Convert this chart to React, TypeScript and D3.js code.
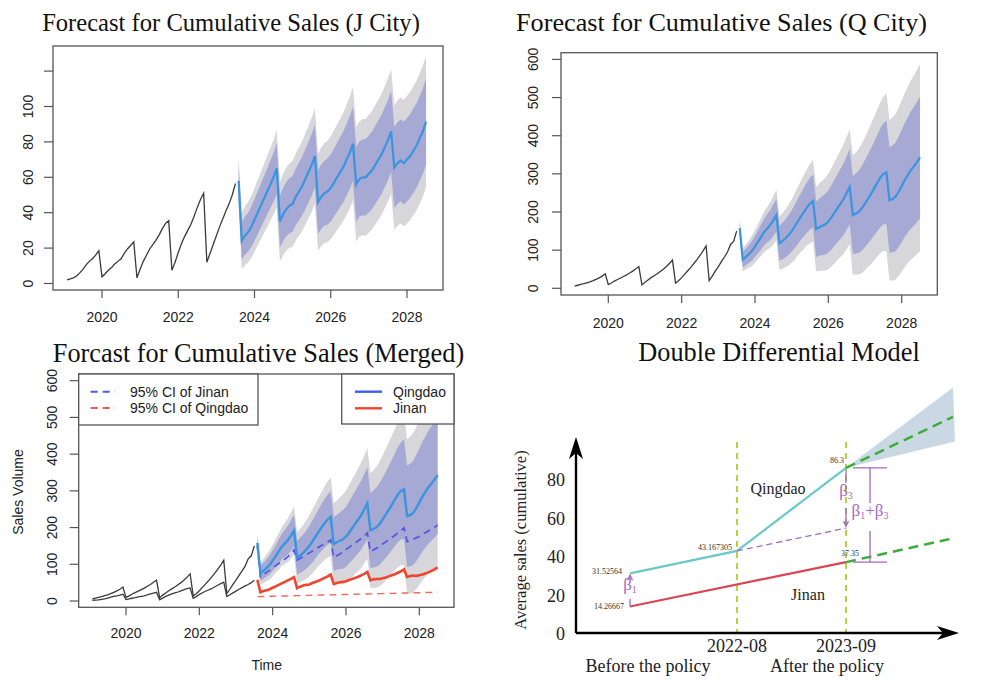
import * as d3 from 'd3';

const SANS = 'Liberation Sans, Arial, Helvetica, sans-serif';
const SERIF = 'Liberation Serif, Times New Roman, serif';

// monthly series, first observation Feb 2019
const startYear = 2019 + 1 / 12;

const histJ = [
  2, 2.6, 3.2, 4.2, 6, 8, 10.5, 12.5, 14, 16, 18.5, 3.8,
  5.5, 7.5, 9, 11, 12.5, 14, 17, 19.5, 21.5, 23.5, 3.2,
  8, 12.5, 16, 19.5, 22, 24.5, 27.5, 31, 34, 35.5, 7.5,
  12, 17.5, 22.5, 26.5, 30, 33.5, 38, 43, 47.5, 51, 12,
  17, 22, 27, 32, 36.5, 41, 45, 50, 56.5,
];
const histQ = [
  6, 8, 10, 12, 14.5, 17, 20, 23.5, 27.5, 32, 38, 10,
  14, 19, 23, 27, 31, 35, 40, 45, 51, 57, 9,
  16, 22, 28, 33, 38, 44, 50, 57, 65, 74, 14,
  20, 28, 37, 46, 55, 65, 75, 86, 98, 111, 20,
  32, 45, 57, 70, 82, 95, 115, 123, 150,
];

// point forecasts, Sep 2023 onwards
const fcJ = [
  58,
  24, 27, 29, 32, 36, 40, 44, 48, 52, 56, 60, 65,
  35, 39, 42, 44, 45, 49, 52, 55, 59, 63, 67, 72,
  46, 49, 51, 52, 54, 57, 60, 63, 66, 70, 74, 79,
  56, 59, 60, 60, 62, 64, 67, 70, 73, 77, 81, 86,
  65.5, 68, 69.5, 68, 70, 72, 75, 78, 82, 86, 91.5,
];
const fcQ = [
  158,
  75, 82, 90, 98, 110, 122, 135, 148, 157, 166, 178, 192,
  118, 124, 131, 140, 150, 162, 175, 188, 200, 212, 222, 229,
  155, 160, 164, 168, 175, 186, 198, 210, 222, 234, 250, 266,
  192, 196, 201, 210, 222, 235, 248, 262, 276, 290, 300, 304,
  231, 234, 240, 253, 268, 284, 297, 310, 320, 331, 343,
];

// half widths of the prediction intervals
const spreadJ95 = [
  14,
  16, 16.5, 17, 17.5, 18, 18.5, 19, 19.5, 20, 20.5, 21, 22,
  22.5, 23, 23.5, 23.8, 24.2, 24.6, 25, 25.4, 25.8, 26.2, 26.6, 27,
  27.4, 27.8, 28.2, 28.6, 29, 29.4, 29.8, 30.2, 30.6, 31, 31.5, 32,
  32.3, 32.5, 32.8, 33, 33.3, 33.5, 33.8, 34, 34.3, 34.5, 34.8, 35,
  35.2, 35.4, 35.6, 35.8, 36, 36.2, 36.4, 36.6, 36.8, 37, 37,
];
const spreadJ80 = [
  9,
  10.5, 10.8, 11, 11.4, 11.8, 12, 12.4, 12.8, 13, 13.4, 13.8, 14.4,
  14.7, 15, 15.3, 15.6, 15.8, 16, 16.3, 16.6, 16.9, 17.1, 17.4, 17.6,
  17.9, 18.2, 18.4, 18.7, 19, 19.2, 19.5, 19.7, 20, 20.3, 20.6, 20.9,
  21.1, 21.2, 21.4, 21.6, 21.8, 21.9, 22.1, 22.2, 22.4, 22.5, 22.7, 22.9,
  23, 23.1, 23.2, 23.4, 23.5, 23.6, 23.8, 23.9, 24, 24.2, 24.2,
];
const spreadQ95 = [
  25,
  30, 33, 36, 40, 43, 46, 50, 53, 56, 60, 63, 66,
  70, 73, 76, 80, 83, 87, 90, 93, 97, 100, 104, 107,
  111, 114, 118, 122, 125, 129, 133, 136, 140, 144, 147, 151,
  156, 160, 165, 170, 174, 179, 184, 188, 193, 198, 202, 207,
  210, 214, 217, 221, 224, 228, 231, 235, 238, 242, 245,
];
const spreadQ80 = [
  16,
  20, 22, 24, 26, 28, 30, 33, 35, 37, 39, 41, 43,
  46, 48, 50, 52, 54, 57, 59, 61, 64, 66, 68, 70,
  73, 75, 77, 80, 82, 84, 87, 89, 92, 94, 96, 99,
  102, 105, 108, 111, 114, 117, 120, 123, 126, 130, 132, 136,
  138, 140, 142, 145, 147, 149, 151, 154, 156, 158, 160,
];

// dashed limits in the merged panel
const ciJinan = [
  150,
  66, 72, 78, 84, 90, 96, 102, 108, 114, 121, 129, 139,
  112, 116, 121, 126, 131, 136, 141, 146, 151, 156, 161, 166,
  118, 123, 128, 134, 140, 146, 152, 158, 164, 170, 177, 185,
  134, 139, 144, 149, 155, 161, 167, 173, 179, 185, 192, 199,
  162, 165, 168, 172, 176, 181, 186, 191, 196, 201, 207,
];
const ciQingdao = [
  12, 12.2, 12.4, 12.6, 12.8, 13, 13.2, 13.4, 13.6, 13.8, 14, 14.2,
  14.4, 14.6, 14.8, 15, 15.2, 15.4, 15.6, 15.8, 16, 16.2, 16.4, 16.6,
  16.8, 17, 17.2, 17.4, 17.6, 17.8, 18, 18.2, 18.4, 18.6, 18.8, 19,
  19.2, 19.4, 19.6, 19.8, 20, 20.2, 20.4, 20.6, 20.8, 21, 21.2, 21.4,
  21.6, 21.8, 22, 22.2, 22.4, 22.6, 22.8, 23, 23.2, 23.4, 23.6, 23.8,
];

const yearTicks = [2020, 2022, 2024, 2026, 2028];
const jTicks = [0, 20, 40, 60, 80, 100, 120];
const qTicks = [0, 100, 200, 300, 400, 500, 600];

// double differential panel
const ddMonths = [0, 12.75, 25.75];
const ddEnd = 38.5;
const ddQingdao = [31.52564, 43.167305, 86.3];
const ddJinan = [14.26667, 37.35];
const ddCounterfactual = 55;
const ddQProjected = 112.8;
const ddQConeHigh = 128;
const ddQConeLow = 100;
const ddJProjected = 49.7;
const ddTicks = [0, 20, 40, 60, 80];
const ddPeriods = ['2022-08', '2023-09'];

const histT = histJ.map((_, i) => startYear + i / 12);
const fcT = fcJ.map((_, i) => startYear + (histJ.length + i) / 12);

const BAND95 = '#d6d6db';
const BAND80 = '#a5a9d3';
const FC_BLUE = '#3a94df';
const HIST = '#3a3a3a';
const AXIS = '#555';

type Box = { l: number; t: number; r: number; b: number };
type Scale = d3.ScaleLinear<number, number>;

function series(ts: number[], vs: number[], x: Scale, y: Scale) {
  return d3.line<number>().x((_, i) => x(ts[i])).y(v => y(v))(vs) || '';
}

function band(vs: number[], h: number[], x: Scale, y: Scale) {
  return d3.area<number>()
    .x((_, i) => x(fcT[i]))
    .y0((v, i) => y(v - h[i]))
    .y1((v, i) => y(v + h[i]))(vs) || '';
}

function Frame({ id, box, x, y, yTicks, yLabelX, xLabelY, hideTop, children }: {
  id: string; box: Box; x: Scale; y: Scale; yTicks: number[]; yLabelX: number; xLabelY: number;
  hideTop?: boolean; children?: any;
}) {
  return (
    <g fontFamily={SANS} fontSize={14} fill="#222">
      <clipPath id={id}>
        <rect x={box.l} y={box.t} width={box.r - box.l} height={box.b - box.t} />
      </clipPath>
      <g clipPath={`url(#${id})`}>{children}</g>
      <rect x={box.l} y={box.t} width={box.r - box.l} height={box.b - box.t}
        fill="none" stroke={AXIS} strokeWidth={1.3} />
      {yTicks.map((v, i) => (
        <g key={'y' + v}>
          <line x1={box.l} x2={box.l - 9} y1={y(v)} y2={y(v)} stroke={AXIS} strokeWidth={1.2} />
          {!(hideTop && i === yTicks.length - 1) && (
            <text transform={`translate(${yLabelX},${y(v)}) rotate(-90)`} textAnchor="middle" dy="0.35em">{v}</text>
          )}
        </g>
      ))}
      {yearTicks.map(v => (
        <g key={'x' + v}>
          <line x1={x(v)} x2={x(v)} y1={box.b} y2={box.b + 8} stroke={AXIS} strokeWidth={1.2} />
          <text x={x(v)} y={xLabelY} textAnchor="middle" dy="0.35em">{v}</text>
        </g>
      ))}
    </g>
  );
}

function CityPanel({ id, box, xr, yDom, yr, yTicks, hideTop, yLabelX, xLabelY, hist, fc, s80, s95 }: {
  id: string; box: Box; xr: number[]; yDom: number[]; yr: number[]; yTicks: number[]; hideTop?: boolean;
  yLabelX: number; xLabelY: number; hist: number[]; fc: number[]; s80: number[]; s95: number[];
}) {
  const x = d3.scaleLinear().domain([2020, 2028]).range(xr);
  const y = d3.scaleLinear().domain(yDom).range(yr);
  return (
    <Frame id={id} box={box} x={x} y={y} yTicks={yTicks} yLabelX={yLabelX} xLabelY={xLabelY} hideTop={hideTop}>
      <path d={band(fc, s95, x, y)} fill={BAND95} />
      <path d={band(fc, s80, x, y)} fill={BAND80} />
      <path d={series(histT, hist, x, y)} fill="none" stroke={HIST} strokeWidth={1.3} />
      <path d={series(fcT, fc, x, y)} fill="none" stroke={FC_BLUE} strokeWidth={2.2} />
    </Frame>
  );
}

function MergedPanel() {
  const box = { l: 78.7, t: 374, r: 454, b: 607.3 };
  const x = d3.scaleLinear().domain([2020, 2028]).range([126, 419.3]);
  const y = d3.scaleLinear().domain([0, 600]).range([601, 380.7]);
  return (
    <g>
      <Frame id="clip3" box={box} x={x} y={y} yTicks={qTicks} yLabelX={51.7} xLabelY={633}>
        <path d={band(fcQ, spreadQ95, x, y)} fill={BAND95} />
        <path d={band(fcQ, spreadQ80, x, y)} fill={BAND80} />
        <path d={series(histT, histQ, x, y)} fill="none" stroke={HIST} strokeWidth={1.3} />
        <path d={series(histT, histJ, x, y)} fill="none" stroke={HIST} strokeWidth={1.3} />
        <path d={series(fcT, ciJinan, x, y)} fill="none" stroke="#5858e0" strokeWidth={1.8} strokeDasharray="7,5" />
        <path d={series(fcT, ciQingdao, x, y)} fill="none" stroke="#f06a60" strokeWidth={1.4} strokeDasharray="7,5" />
        <path d={series(fcT, fcQ, x, y)} fill="none" stroke={FC_BLUE} strokeWidth={2.4} />
        <path d={series(fcT, fcJ, x, y)} fill="none" stroke="#f0442e" strokeWidth={2.6} />
      </Frame>
      <g fontFamily={SANS} fontSize={14} fill="#222">
        <rect x={box.l} y={box.t} width={258 - box.l} height={51} fill="#fff" stroke={AXIS} strokeWidth={1.3} />
        <line x1={90.7} x2={115} y1={391.7} y2={391.7} stroke="#4a5cf0" strokeWidth={2} strokeDasharray="7,5" />
        <text x={130} y={391.7} dy="0.35em">95% CI of Jinan</text>
        <line x1={90.7} x2={115} y1={408} y2={408} stroke="#f05a50" strokeWidth={2} strokeDasharray="7,5" />
        <text x={130} y={408} dy="0.35em">95% CI of Qingdao</text>
        <rect x={341.7} y={box.t} width={box.r - 341.7} height={50} fill="#fff" stroke={AXIS} strokeWidth={1.3} />
        <line x1={355} x2={382} y1={391.7} y2={391.7} stroke="#3a5ff0" strokeWidth={2.4} />
        <text x={393} y={391.7} dy="0.35em">Qingdao</text>
        <line x1={355} x2={382} y1={408.3} y2={408.3} stroke="#f0442e" strokeWidth={2.4} />
        <text x={393} y={408.3} dy="0.35em">Jinan</text>
        <text x={266.7} y={665} textAnchor="middle" dy="0.35em">Time</text>
        <text transform="translate(18,492) rotate(-90)" textAnchor="middle" dy="0.35em">Sales Volume</text>
      </g>
    </g>
  );
}

// β with subscripts, e.g. ['1','3'] -> β1+β3
function Beta({ x, y, sub }: { x: number; y: number; sub: string[] }) {
  const parts: any[] = [];
  sub.forEach((s, i) => {
    parts.push(<tspan key={'b' + i} dy={i > 0 ? -3 : 0}>{i > 0 ? '+β' : 'β'}</tspan>);
    parts.push(<tspan key={'s' + i} fontSize={10} dy={3}>{s}</tspan>);
  });
  return (
    <text x={x} y={y} textAnchor="middle" dy="0.35em" fontFamily={SERIF} fontSize={17} fill="#a468c0">
      {parts}
    </text>
  );
}

function DDPanel() {
  const x = d3.scaleLinear().domain([-6.44, 39.1]).range([576, 958]);
  const y = d3.scaleLinear().domain([0, 100]).range([634, 441.5]);
  const qLine = d3.line<number>().x((_, i) => x(ddMonths[i])).y(v => y(v))(ddQingdao) || '';
  const jLine = d3.line<number>().x((_, i) => x(ddMonths[i === 0 ? 0 : 2])).y(v => y(v))(ddJinan) || '';
  const last = ddMonths[2];
  const cone = `M${x(last)},${y(ddQingdao[2])}L${x(ddEnd)},${y(ddQConeHigh)}L${x(ddEnd) + 2},${y(ddQConeLow)}Z`;
  const purple = '#a468c0';
  const xa = x(ddMonths[0]);
  const xc = x(last);
  const xb = xc + 24;
  return (
    <g fontFamily={SERIF} fill="#222">
      <path d={cone} fill="#cad8e4" />
      {ddMonths.slice(1).map(m => (
        <line key={m} x1={x(m)} x2={x(m)} y1={442} y2={633} stroke="#b6d23a" strokeWidth={2} strokeDasharray="6,5" />
      ))}
      <path d={qLine} fill="none" stroke="#6cc8c8" strokeWidth={2.2} />
      <path d={jLine} fill="none" stroke="#dc4453" strokeWidth={2.2} />
      <line x1={x(ddMonths[1])} y1={y(ddQingdao[1])} x2={xc} y2={y(ddCounterfactual)}
        stroke={purple} strokeWidth={1.3} strokeDasharray="6,4" />
      <line x1={xc} y1={y(ddQingdao[2])} x2={x(ddEnd)} y2={y(ddQProjected)}
        stroke="#3aae3a" strokeWidth={2.5} strokeDasharray="10,6" />
      <line x1={xc} y1={y(ddJinan[1])} x2={x(ddEnd)} y2={y(ddJProjected)}
        stroke="#3aae3a" strokeWidth={2.5} strokeDasharray="10,6" />
      {/* axes */}
      <line x1={576} y1={633} x2={948} y2={633} stroke="#000" strokeWidth={2.4} />
      <line x1={576} y1={633} x2={576} y2={450} stroke="#000" strokeWidth={2.4} />
      <path d="M576,437 L569,459 L576,453 L583,459 Z" fill="#000" />
      <path d="M959,633 L937,626 L943,633 L937,640 Z" fill="#000" />
      {ddTicks.map(v => (
        <text key={v} x={565} y={y(v)} textAnchor="end" dy="0.35em" fontSize={18}>{v}</text>
      ))}
      {ddPeriods.map((p, i) => (
        <text key={p} x={x(ddMonths[i + 1])} y={646} textAnchor="middle" dy="0.35em" fontSize={18}>{p}</text>
      ))}
      <text x={648} y={666} textAnchor="middle" dy="0.35em" fontSize={18}>Before the policy</text>
      <text x={827} y={666} textAnchor="middle" dy="0.35em" fontSize={18}>After the policy</text>
      <text transform="translate(520,540) rotate(-90)" textAnchor="middle" dy="0.35em" fontSize={16.5}>
        Average sales (cumulative)
      </text>
      <text x={778} y={488} textAnchor="middle" dy="0.35em" fontSize={16}>Qingdao</text>
      <text x={808} y={594} textAnchor="middle" dy="0.35em" fontSize={16}>Jinan</text>
      {/* value labels */}
      <g fontSize={8} fill="#333">
        <text x={xa - 8} y={y(ddQingdao[0])} textAnchor="end" dy="0.1em">{ddQingdao[0]}</text>
        <text x={xa - 6} y={y(ddJinan[0])} textAnchor="end" dy="0.35em">{ddJinan[0]}</text>
        <text x={x(ddMonths[1]) - 5} y={y(ddQingdao[1]) - 1} textAnchor="end">{ddQingdao[1]}</text>
        <text x={xc - 2} y={y(ddQingdao[2]) - 5} textAnchor="end">{ddQingdao[2]}</text>
        <text x={xc + 4} y={y(ddJinan[1]) - 6} textAnchor="middle">{ddJinan[1]}</text>
      </g>
      {/* beta annotations */}
      <g stroke={purple} strokeWidth={1.3} fill="none">
        <line x1={xa} x2={xa} y1={y(ddQingdao[0]) + 2} y2={580} />
        <path d={`M${xa - 2.5},${y(ddQingdao[0]) + 7}L${xa},${y(ddQingdao[0]) + 2}L${xa + 2.5},${y(ddQingdao[0]) + 7}`} />
        <line x1={xa} x2={xa} y1={599} y2={y(ddJinan[0])} />
        <line x1={xc} x2={xc} y1={y(ddQingdao[2]) + 2} y2={483} />
        <line x1={xc} x2={xc} y1={508} y2={y(ddCounterfactual) - 2} />
        <path d={`M${xc - 2.5},${y(ddCounterfactual) - 7}L${xc},${y(ddCounterfactual) - 2}L${xc + 2.5},${y(ddCounterfactual) - 7}`} />
        <line x1={xb - 17} x2={xb + 17} y1={y(ddQingdao[2])} y2={y(ddQingdao[2])} />
        <line x1={xb - 17} x2={xb + 17} y1={y(ddJinan[1])} y2={y(ddJinan[1])} />
        <line x1={xb} x2={xb} y1={y(ddQingdao[2])} y2={503} />
        <line x1={xb} x2={xb} y1={531} y2={y(ddJinan[1])} />
      </g>
      <Beta x={xa} y={590} sub={['1']} />
      <Beta x={xc} y={496} sub={['3']} />
      <Beta x={xb} y={516} sub={['1', '3']} />
    </g>
  );
}

export default function App() {
  return (
    <div style={{ position: 'absolute', left: 0, top: 0 }}>
      <svg width={992} height={688} style={{ display: 'block', background: '#fff' }}>
        <g fontFamily={SERIF} fill="#111" textAnchor="middle">
          <text x={231} y={22} dy="0.35em" fontSize={24.6}>Forecast for Cumulative Sales (J City)</text>
          <text x={721.5} y={22} dy="0.35em" fontSize={26.2}>Forecast for Cumulative Sales (Q City)</text>
          <text x={258.5} y={353} dy="0.35em" fontSize={26.3}>Forcast for Cumulative Sales (Merged)</text>
          <text x={779} y={352} dy="0.35em" fontSize={26.3}>Double Differential Model</text>
        </g>
        <CityPanel id="clip1" box={{ l: 53, t: 46, r: 443, b: 290 }} xr={[102, 407]}
          yDom={[0, 100]} yr={[283.5, 106.5]} yTicks={jTicks} hideTop yLabelX={28} xLabelY={317}
          hist={histJ} fc={fcJ} s80={spreadJ80} s95={spreadJ95} />
        <CityPanel id="clip2" box={{ l: 561, t: 52.7, r: 937.3, b: 295 }} xr={[608.3, 901.7]}
          yDom={[0, 600]} yr={[288.3, 59.4]} yTicks={qTicks} yLabelX={533} xLabelY={322.7}
          hist={histQ} fc={fcQ} s80={spreadQ80} s95={spreadQ95} />
        <MergedPanel />
        <DDPanel />
      </svg>
    </div>
  );
}
